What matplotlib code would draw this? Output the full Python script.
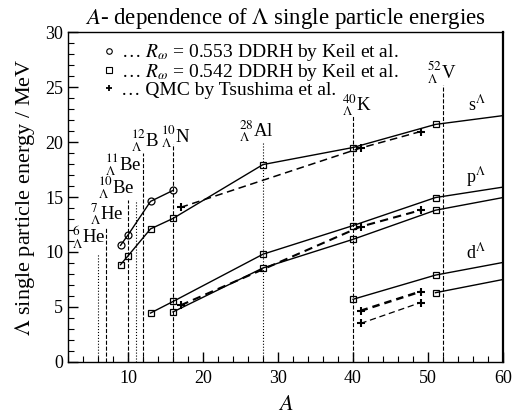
import matplotlib
matplotlib.use("Agg")
import matplotlib.pyplot as plt
from matplotlib.lines import Line2D

plt.rcParams["font.family"] = ["Liberation Serif", "DejaVu Serif"]
plt.rcParams["mathtext.fontset"] = "stix"

# DDRH, R_omega = 0.553 (circles, s state, light hypernuclei)
s_circle_A = [9, 10, 13, 16]
s_circle_E = [10.6, 11.55, 14.6, 15.6]

# DDRH, R_omega = 0.542 (squares); last point is the curve end at A = 60
s_square_A = [9, 10, 13, 16, 28, 40, 51, 60]
s_square_E = [8.85, 9.65, 12.1, 13.05, 17.95, 19.5, 21.6, 22.4]
p1_A = [13, 16, 28, 40, 51, 60]
p1_E = [4.45, 5.5, 9.8, 12.4, 14.95, 15.9]
p2_A = [16, 28, 40, 51, 60]
p2_E = [4.55, 8.55, 11.15, 13.8, 14.95]
d1_A = [40, 51, 60]
d1_E = [5.7, 7.9, 9.05]
d2_A = [51, 60]
d2_E = [6.3, 7.5]

# QMC by Tsushima et al.
qmc_A = [17, 41, 49]
qmc_s = [14.05, 19.45, 20.95]
qmc_p = [5.15, 12.3, 13.8]
qmc_d_A = [41, 49]
qmc_d1 = [4.65, 6.4]
qmc_d2 = [3.5, 5.4]

# hypernucleus markers
nuc_A = [6, 7, 10, 11, 12, 16, 28, 40, 52]
nuc_top = [9.85, 12.2, 14.7, 14.7, 19.0, 19.8, 19.9, 22.5, 25.2]
nuc_style = [":", "--", "--", ":", "--", "--", ":", "--", "--"]
nuc_labels = [r"$^{6}_{\Lambda}$He", r"$^{7}_{\Lambda}$He", r"$^{10}_{\Lambda}$Be",
              r"$^{11}_{\Lambda}$Be", r"$^{12}_{\Lambda}$B", r"$^{10}_{\Lambda}$N",
              r"$^{28}_{\Lambda}$Al", r"$^{40}_{\Lambda}$K", r"$^{52}_{\Lambda}$V"]
nuc_label_x = [4.8, 7.2, 8.4, 9.4, 12.3, 16.4, 27.1, 40.5, 51.9]
nuc_label_y = [10.1, 12.3, 14.6, 16.7, 18.9, 19.3, 19.8, 22.2, 25.1]

state_labels = [r"s$^{\Lambda}$", r"p$^{\Lambda}$", r"d$^{\Lambda}$"]
state_x = [56.5, 56.4, 56.4]
state_y = [23.4, 16.8, 10.0]

fig = plt.figure(figsize=(5.13, 4.18), dpi=100)
ax = fig.add_axes([0.1326, 0.134, 0.8479, 0.7894])

for a, top, ls in zip(nuc_A, nuc_top, nuc_style):
    ax.plot([a, a], [0, top], color="black", linestyle=ls, linewidth=0.8)

mk = dict(color="black", linewidth=1.0, markersize=5, markerfacecolor="none",
          markeredgewidth=0.9)
ax.plot(s_circle_A, s_circle_E, marker="o", **mk)
ax.plot(s_square_A, s_square_E, marker="s", markevery=list(range(len(s_square_A) - 1)), **mk)
ax.plot(p1_A, p1_E, marker="s", markevery=list(range(len(p1_A) - 1)), **mk)
ax.plot(p2_A, p2_E, marker="s", markevery=list(range(len(p2_A) - 1)), **mk)
ax.plot(d1_A, d1_E, marker="s", markevery=list(range(len(d1_A) - 1)), **mk)
ax.plot(d2_A, d2_E, marker="s", markevery=list(range(len(d2_A) - 1)), **mk)

qk = dict(color="black", marker="+", markersize=6, markeredgewidth=1.5)
ax.plot(qmc_A, qmc_s, linestyle="--", linewidth=1.1, dashes=(5, 3), **qk)
ax.plot(qmc_A, qmc_p, linestyle="--", linewidth=1.5, dashes=(4, 2.5), **qk)
ax.plot(qmc_d_A, qmc_d1, linestyle="--", linewidth=1.8, dashes=(3, 2), **qk)
ax.plot(qmc_d_A, qmc_d2, linestyle="--", linewidth=0.9, dashes=(5, 3), **qk)

for lab, x, y in zip(nuc_labels, nuc_label_x, nuc_label_y):
    ax.text(x, y, lab, ha="center", va="bottom", fontsize=13.5)
for lab, x, y in zip(state_labels, state_x, state_y):
    ax.text(x, y, lab, ha="center", va="center", fontsize=13)

handles = [
    Line2D([], [], color="black", marker="o", linestyle="none", markersize=4,
           markerfacecolor="none", markeredgewidth=0.8),
    Line2D([], [], color="black", marker="s", linestyle="none", markersize=4,
           markerfacecolor="none", markeredgewidth=0.8),
    Line2D([], [], color="black", marker="+", linestyle="none", markersize=5,
           markeredgewidth=1.3),
]
labels = ["\u2026 $R_{\\omega}$ = 0.553 DDRH by Keil et al.",
          "\u2026 $R_{\\omega}$ = 0.542 DDRH by Keil et al.",
          "\u2026 QMC by Tsushima et al."]
ax.legend(handles, labels, loc="upper left", bbox_to_anchor=(0.05, 1.01),
          frameon=False, fontsize=14, handlelength=0.6, handletextpad=0.3,
          labelspacing=-0.08, borderpad=0.2)

ax.set_xlim(2, 60)
ax.set_ylim(0, 30)
ax.set_xticks([10, 20, 30, 40, 50, 60])
ax.set_xticks(range(2, 61, 2), minor=True)
ax.set_yticks(range(0, 31, 5))
ax.set_yticks(range(0, 31, 1), minor=True)
ax.tick_params(which="both", direction="in", top=False, right=False, labelsize=13)
ax.tick_params(which="major", length=7, width=1)
ax.tick_params(which="minor", length=4, width=0.8)
ax.tick_params(axis="x", pad=6)
for sp in ax.spines.values():
    sp.set_linewidth(1.0)
ax.spines["right"].set_linewidth(1.6)

ax.set_xlabel(r"$A$", fontsize=16, labelpad=6)
ax.set_ylabel(r"$\Lambda$ single particle energy / MeV", fontsize=16, labelpad=6)
ax.set_title(r"$A$- dependence of $\Lambda$ single particle energies", fontsize=16.5, pad=6)

fig.savefig("out.png", dpi=100)
